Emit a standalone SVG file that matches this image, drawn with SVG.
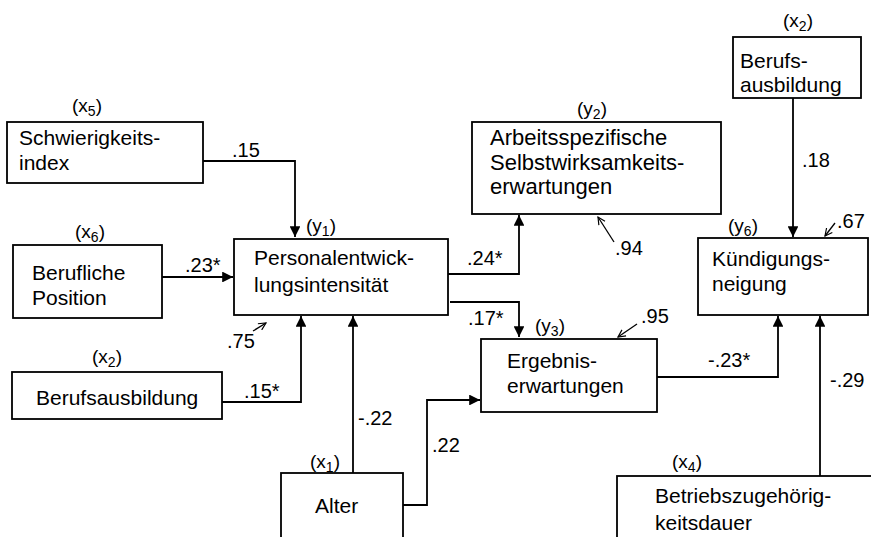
<svg xmlns="http://www.w3.org/2000/svg" width="871" height="537" viewBox="0 0 871 537">
<style>
.box{fill:#fff;stroke:#000;stroke-width:1.8}
.t{font-family:"Liberation Sans",Arial,sans-serif;font-size:21px;fill:#000}
.t2{font-size:22px}
.v{font-family:"Liberation Sans",Arial,sans-serif;font-size:20px;fill:#000}
.lab{font-family:"Liberation Sans",Arial,sans-serif;font-size:19px;fill:#000}
.sub{font-size:14px}
.c{fill:none;stroke:#000;stroke-width:1.8}
.e{fill:none;stroke:#000;stroke-width:1.3}
</style>
<defs>
<marker id="ah" viewBox="0 0 10 10" refX="10" refY="5" markerWidth="6" markerHeight="6" orient="auto" markerUnits="strokeWidth">
<path d="M0,0 L10,5 L0,10 z" fill="#000"/>
</marker>
<marker id="oa" viewBox="0 0 10 10" refX="9" refY="5" markerWidth="7" markerHeight="7" orient="auto" markerUnits="strokeWidth">
<path d="M1,1 L9,5 L1,9" fill="none" stroke="#000" stroke-width="1.3"/>
</marker>
</defs>
<rect width="871" height="537" fill="#fff"/>

<g id="connectors">
<polyline class="c" points="203,161 295,161 295,237" marker-end="url(#ah)"/>
<line class="c" x1="162" y1="277" x2="233" y2="277" marker-end="url(#ah)"/>
<polyline class="c" points="222,402 301,402 301,316" marker-end="url(#ah)"/>
<line class="c" x1="353" y1="473" x2="353" y2="316" marker-end="url(#ah)"/>
<polyline class="c" points="403,505 427,505 427,400 480,400" marker-end="url(#ah)"/>
<polyline class="c" points="448,274 519,274 519,215" marker-end="url(#ah)"/>
<polyline class="c" points="450,302 519,302 519,337" marker-end="url(#ah)"/>
<polyline class="c" points="657,377 778,377 778,316" marker-end="url(#ah)"/>
<line class="c" x1="820" y1="476" x2="820" y2="316" marker-end="url(#ah)"/>
<line class="c" x1="793" y1="98" x2="793" y2="237" marker-end="url(#ah)"/>
<line class="e" x1="253" y1="331" x2="266" y2="323" marker-end="url(#oa)"/>
<line class="e" x1="614" y1="242" x2="598" y2="217" marker-end="url(#oa)"/>
<line class="e" x1="637" y1="324" x2="618" y2="337" marker-end="url(#oa)"/>
<line class="e" x1="835" y1="223" x2="825" y2="236" marker-end="url(#oa)"/>
<text class="v" x="232" y="157">.15</text>
<text class="v" x="185" y="272">.23*</text>
<text class="v" x="227" y="348">.75</text>
<text class="v" x="244" y="398">.15*</text>
<text class="v" x="358" y="425">-.22</text>
<text class="v" x="432" y="452">.22</text>
<text class="v" x="467" y="265">.24*</text>
<text class="v" x="468" y="325">.17*</text>
<text class="v" x="615" y="255">.94</text>
<text class="v" x="641" y="323">.95</text>
<text class="v" x="708" y="367">-.23*</text>
<text class="v" x="830" y="387">-.29</text>
<text class="v" x="802" y="167">.18</text>
<text class="v" x="837" y="228">.67</text>
</g>

<g id="x5">
<rect class="box" x="7" y="122" width="196" height="61"/>
<text class="t" x="19" y="145">Schwierigkeits-</text>
<text class="t" x="19" y="170">index</text>
<text class="lab" x="72" y="112">(x<tspan class="sub" dy="4">5</tspan><tspan dy="-4">)</tspan></text>
</g>

<g id="x6">
<rect class="box" x="13" y="245" width="149" height="73"/>
<text class="t" x="32" y="280">Berufliche</text>
<text class="t" x="32" y="305">Position</text>
<text class="lab" x="75" y="238">(x<tspan class="sub" dy="4">6</tspan><tspan dy="-4">)</tspan></text>
</g>

<g id="x2a">
<rect class="box" x="12" y="372" width="210" height="47"/>
<text class="t" x="36" y="405">Berufsausbildung</text>
<text class="lab" x="92" y="363">(x<tspan class="sub" dy="4">2</tspan><tspan dy="-4">)</tspan></text>
</g>

<g id="y1">
<rect class="box" x="234" y="239" width="214" height="76"/>
<text class="t" x="254" y="265">Personalentwick-</text>
<text class="t" x="254" y="292">lungsintensität</text>
<text class="lab" x="306" y="232">(y<tspan class="sub" dy="4">1</tspan><tspan dy="-4">)</tspan></text>
</g>

<g id="x1">
<rect class="box" x="281" y="473" width="122" height="80"/>
<text class="t" x="315" y="513">Alter</text>
<text class="lab" x="310" y="468">(x<tspan class="sub" dy="4">1</tspan><tspan dy="-4">)</tspan></text>
</g>

<g id="y2">
<rect class="box" x="472" y="122" width="249" height="92"/>
<text class="t t2" x="490" y="145">Arbeitsspezifische</text>
<text class="t t2" x="490" y="170">Selbstwirksamkeits-</text>
<text class="t t2" x="490" y="194">erwartungen</text>
<text class="lab" x="577" y="115">(y<tspan class="sub" dy="4">2</tspan><tspan dy="-4">)</tspan></text>
</g>

<g id="y3">
<rect class="box" x="481" y="339" width="176" height="73"/>
<text class="t" x="507" y="368">Ergebnis-</text>
<text class="t" x="507" y="393">erwartungen</text>
<text class="lab" x="535" y="332">(y<tspan class="sub" dy="4">3</tspan><tspan dy="-4">)</tspan></text>
</g>

<g id="x2b">
<rect class="box" x="733" y="37" width="128" height="61"/>
<text class="t" x="740" y="68">Berufs-</text>
<text class="t" x="740" y="92">ausbildung</text>
<text class="lab" x="783" y="27">(x<tspan class="sub" dy="4">2</tspan><tspan dy="-4">)</tspan></text>
</g>

<g id="y6">
<rect class="box" x="698" y="238" width="170" height="77"/>
<text class="t" x="712" y="266">Kündigungs-</text>
<text class="t" x="712" y="291">neigung</text>
<text class="lab" x="728" y="232">(y<tspan class="sub" dy="4">6</tspan><tspan dy="-4">)</tspan></text>
</g>

<g id="x4">
<rect class="box" x="617" y="476" width="290" height="90"/>
<text class="t" x="655" y="503">Betriebszugehörig-</text>
<text class="t" x="655" y="530">keitsdauer</text>
<text class="lab" x="672" y="468">(x<tspan class="sub" dy="4">4</tspan><tspan dy="-4">)</tspan></text>
</g>
</svg>
